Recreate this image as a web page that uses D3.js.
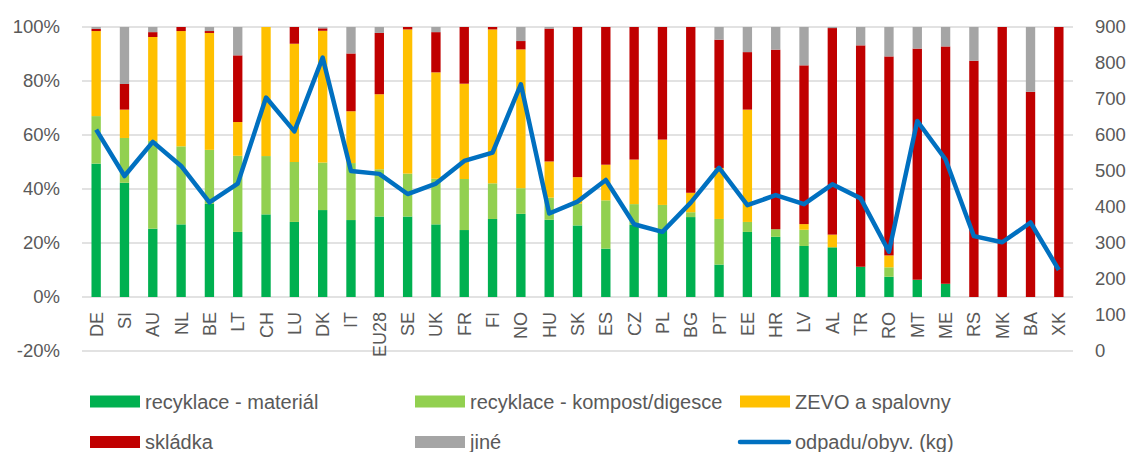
<!DOCTYPE html>
<html>
<head>
<meta charset="utf-8">
<script src="https://cdn.jsdelivr.net/npm/d3@7"></script>
<style>
  body { margin: 0; background: #fff; }
  svg { display: block; font-family: "Liberation Sans", Arial, sans-serif; }
</style>
</head>
<body>
<script>
// countries (EU28 = average)
let countries = ['DE','SI','AU','NL','BE','LT','CH','LU','DK','IT','EU28','SE','UK','FR','FI','NO','HU','SK','ES','CZ','PL','BG','PT','EE','HR','LV','AL','TR','RO','MT','ME','RS','MK','BA','XK'];

// shares in %
let material = [49.4,42.3,25.3,26.9,34.5,24.1,30.6,27.8,32.2,28.5,29.8,29.8,26.9,24.8,28.9,30.8,28.6,26.5,17.9,26.7,24.8,29.6,12.0,24.1,22.3,18.9,18.4,11.2,7.5,6.4,4.9,0,0,0,0];
let kompost  = [17.6,16.6,32.5,28.9,20.0,28.2,21.6,22.2,17.6,21.1,17.5,15.9,16.9,18.9,13.2,9.5,8.2,8.1,17.9,7.7,9.3,1.8,16.9,3.7,2.8,6.0,0,0,3.5,0,0,0,0,0,0];
let zevo     = [31.5,10.5,38.5,42.7,43.3,12.5,47.8,43.8,48.8,19.2,27.8,53.4,39.4,35.3,57.0,51.4,13.4,9.8,13.2,16.5,24.2,7.2,18.9,41.6,0,2.1,4.7,0,4.4,0,0,0,0,0,0];
let skladka  = [0.8,9.5,1.8,1.5,0.7,24.7,0,6.2,0.9,21.4,22.7,0.9,14.9,21.0,0.9,3.1,49.2,55.6,51.0,49.1,41.7,61.4,47.5,21.3,66.5,58.8,76.5,82.0,73.7,85.6,87.9,87.5,100,76.0,100];
let jine     = [0.7,21.1,1.9,0,1.5,10.5,0,0,0.5,9.8,2.2,0,1.9,0,0,5.2,0.6,0,0,0,0,0,4.7,9.3,8.4,14.2,0.4,6.8,10.9,8.0,7.2,12.5,0,24.0,0];

// municipal waste per inhabitant (kg)
let perCapita = [615,486,581,514,413,465,704,610,815,500,492,436,465,528,551,741,382,415,475,352,331,412,509,405,433,408,463,424,276,639,532,319,302,357,225];

let leftTicks = [-0.2,0,0.2,0.4,0.6,0.8,1];
let rightTicks = [0,100,200,300,400,500,600,700,800,900];

let keys = ['material','kompost','zevo','skladka','jine'];
let labels = ['recyklace - materiál','recyklace - kompost/digesce','ZEVO a spalovny','skládka','jiné'];
let colors = ['#00b050','#92d050','#ffc000','#c00000','#a5a5a5'];
let lineLabel = 'odpadu/obyv. (kg)';

let w = 1129, h = 452;
let plotLeft = 82, plotRight = 1073, plotTop = 27, plotBottom = 351;

let rows = countries.map((c, i) => ({
	country: c,
	material: material[i] / 100,
	kompost: kompost[i] / 100,
	zevo: zevo[i] / 100,
	skladka: skladka[i] / 100,
	jine: jine[i] / 100
}));

let series = d3.stack().keys(keys)(rows);

let xScale = d3.scaleBand()
	.domain(countries)
	.range([plotLeft, plotRight])
	.paddingInner(0.67)
	.paddingOuter(0.335);

let yScale = d3.scaleLinear().domain([-0.2, 1]).range([plotBottom, plotTop]);
let yRight = d3.scaleLinear().domain([0, 900]).range([plotBottom, plotTop]);

let svg = d3.select('body').append('svg')
	.attr('width', w)
	.attr('height', h);

// gridlines
svg.append('g')
	.selectAll('line')
	.data(leftTicks)
	.enter().append('line')
	.attr('x1', plotLeft)
	.attr('x2', plotRight)
	.attr('y1', d => yScale(d))
	.attr('y2', d => yScale(d))
	.attr('stroke', '#d9d9d9')
	.attr('stroke-width', 1.5);

// left axis (plain hyphen for the minus, like the original)
let yAxis = d3.axisLeft(yScale).tickValues(leftTicks)
	.tickFormat(d => Math.round(d * 100) + '%')
	.tickSize(0).tickPadding(22);
svg.append('g')
	.attr('transform', 'translate(' + plotLeft + ',0)')
	.call(yAxis)
	.call(g => g.select('.domain').remove())
	.selectAll('text')
	.attr('font-size', '18.5px')
	.attr('fill', '#595959')
	.attr('font-family', '"Liberation Sans", Arial, sans-serif');

// right axis
let yAxisR = d3.axisRight(yRight).tickValues(rightTicks).tickFormat(d3.format('d')).tickSize(0).tickPadding(22);
svg.append('g')
	.attr('transform', 'translate(' + plotRight + ',0)')
	.call(yAxisR)
	.call(g => g.select('.domain').remove())
	.selectAll('text')
	.attr('font-size', '18.5px')
	.attr('fill', '#595959')
	.attr('font-family', '"Liberation Sans", Arial, sans-serif');

// stacked bars
svg.append('g')
	.selectAll('g')
	.data(series)
	.enter().append('g')
	.attr('fill', (d, i) => colors[i])
	.selectAll('rect')
	.data(d => d)
	.enter().append('rect')
	.attr('x', d => xScale(d.data.country))
	.attr('y', d => yScale(d[1]))
	.attr('width', xScale.bandwidth())
	.attr('height', d => Math.max(0, yScale(d[0]) - yScale(d[1])));

// country labels
svg.append('g')
	.selectAll('text')
	.data(countries)
	.enter().append('text')
	.attr('transform', d => 'translate(' + (xScale(d) + xScale.bandwidth() / 2) + ',312) rotate(-90)')
	.attr('text-anchor', 'end')
	.attr('dy', '0.36em')
	.attr('font-size', '18px')
	.attr('fill', '#595959')
	.text(d => d);

// per capita line
let line = d3.line()
	.x((d, i) => xScale(countries[i]) + xScale.bandwidth() / 2)
	.y(d => yRight(d));

svg.append('path')
	.datum(perCapita)
	.attr('d', line)
	.attr('fill', 'none')
	.attr('stroke', '#0070c0')
	.attr('stroke-width', 4.5)
	.attr('stroke-linejoin', 'round');

// legend
let legendPos = [[90, 401.5], [415, 401.5], [740, 401.5], [90, 442], [415, 442]];
let legend = svg.append('g');

keys.forEach((k, i) => {
	let p = legendPos[i];
	legend.append('rect')
		.attr('x', p[0])
		.attr('y', p[1] - 6)
		.attr('width', 50)
		.attr('height', 12)
		.attr('fill', colors[i]);
	legend.append('text')
		.attr('x', p[0] + 55)
		.attr('y', p[1])
		.attr('dy', '0.35em')
		.attr('font-size', '20px')
		.attr('fill', '#595959')
		.text(labels[i]);
});

legend.append('line')
	.attr('x1', 740).attr('x2', 789)
	.attr('y1', 442).attr('y2', 442)
	.attr('stroke', '#0070c0')
	.attr('stroke-width', 4.5)
	.attr('stroke-linecap', 'round');
legend.append('text')
	.attr('x', 795)
	.attr('y', 442)
	.attr('dy', '0.35em')
	.attr('font-size', '20px')
	.attr('fill', '#595959')
	.text(lineLabel);
</script>
</body>
</html>
